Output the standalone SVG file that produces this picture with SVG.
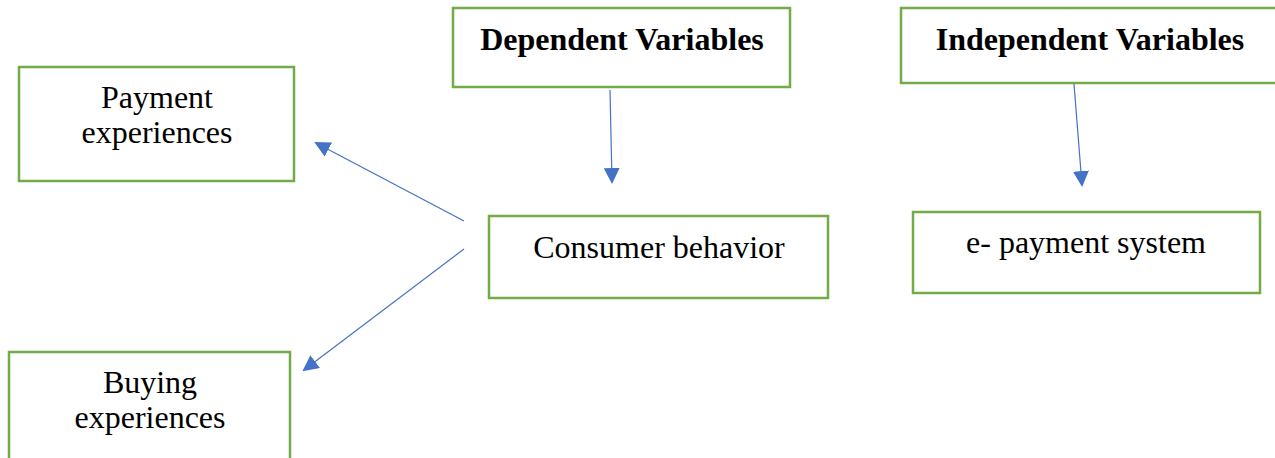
<svg xmlns="http://www.w3.org/2000/svg" width="1275" height="458" viewBox="0 0 1275 458">
<style>
.box{fill:#fff;stroke:#70AD47;stroke-width:2.5}
.t{font-family:"Liberation Serif","Times New Roman",serif;font-size:32px;fill:#000;text-anchor:middle}
.b{font-weight:bold}
.c{stroke:#4472C4;stroke-width:1.2;fill:none;marker-end:url(#ah)}
</style>
<defs>
<marker id="ah" markerWidth="16" markerHeight="16" refX="14" refY="8" orient="auto" markerUnits="userSpaceOnUse">
<path d="M0,0 L16,8 L0,16 Z" fill="#4472C4"/>
</marker>
</defs>
<rect width="1275" height="458" fill="#fff"/>
<g id="payment"><rect class="box" x="19" y="67" width="275" height="114"/><text class="t" x="157" y="108">Payment</text><text class="t" x="157" y="143">experiences</text></g>
<g id="dependent"><rect class="box" x="453" y="8" width="337" height="79"/><text class="t b" x="622" y="50">Dependent Variables</text></g>
<g id="consumer"><rect class="box" x="489" y="216" width="339" height="82"/><text class="t" x="659" y="258">Consumer behavior</text></g>
<g id="independent"><rect class="box" x="901" y="8" width="380" height="75"/><text class="t b" x="1090" y="50">Independent Variables</text></g>
<g id="epayment"><rect class="box" x="913" y="212" width="347" height="81"/><text class="t" x="1086" y="253">e- payment system</text></g>
<g id="buying"><rect class="box" x="9" y="352" width="281" height="120"/><text class="t" x="150" y="393">Buying</text><text class="t" x="150" y="428">experiences</text></g>
<g id="connectors">
<line class="c" x1="610" y1="90" x2="612" y2="182"/>
<line class="c" x1="1074" y1="84" x2="1082" y2="185"/>
<line class="c" x1="464" y1="221" x2="316" y2="143"/>
<line class="c" x1="464" y1="249" x2="304" y2="370"/>
</g>
</svg>
